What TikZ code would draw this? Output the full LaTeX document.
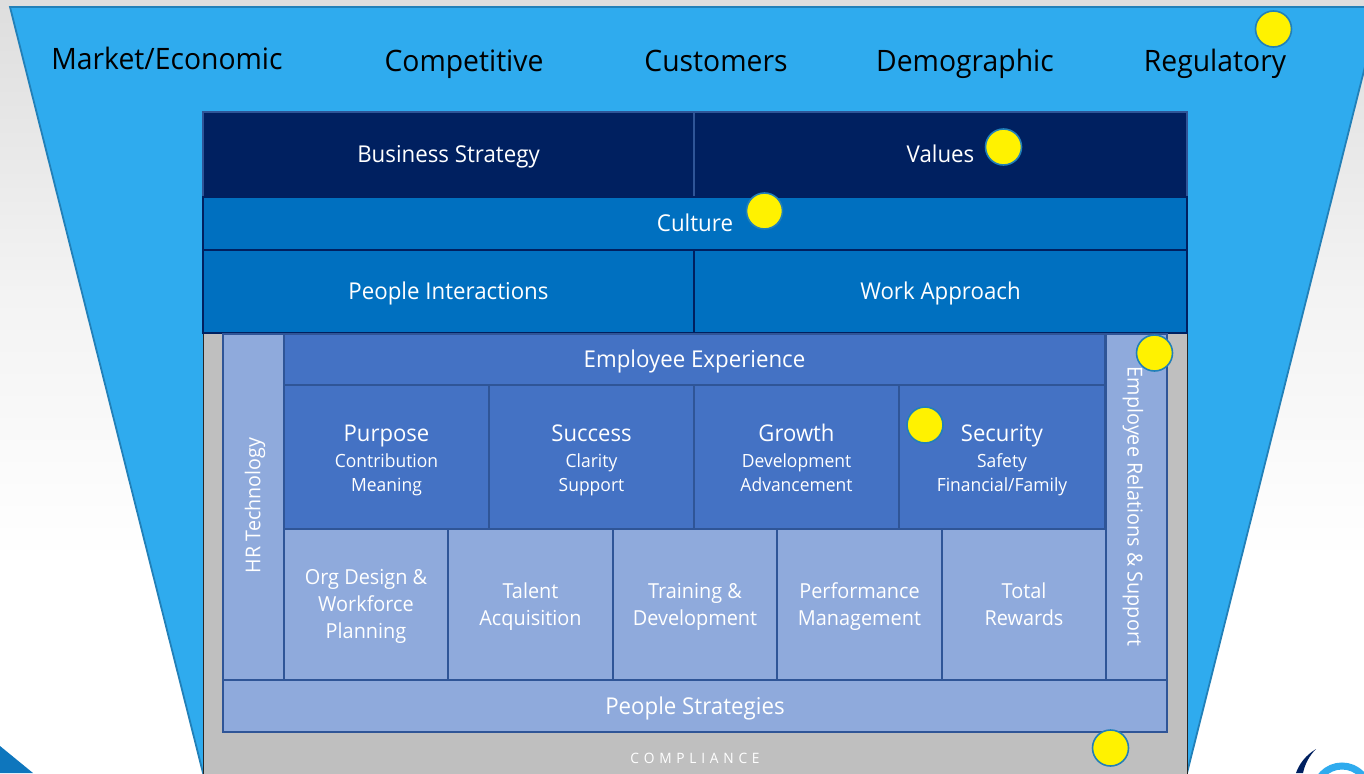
\documentclass[tikz,border=0pt]{standalone}
\usepackage{fontspec}
\setmainfont{Open Sans}[FakeStretch=0.96]
\newcommand{\fs}[1]{\fontsize{#1}{0}\selectfont}
\lineskiplimit=-100pt
\definecolor{sky}{HTML}{2FABEE}
\definecolor{skyedge}{HTML}{2280B8}
\definecolor{navy}{HTML}{002060}
\definecolor{midblue}{HTML}{0070C0}
\definecolor{royal}{HTML}{4472C4}
\definecolor{pale}{HTML}{8FAADC}
\definecolor{cellline}{HTML}{2F5597}
\definecolor{grayfill}{HTML}{BFBFBF}
\tikzset{
  x=1pt,y=-1pt,
  cell/.style={draw=cellline,line width=1.3pt,anchor=north west,inner sep=0pt,outer sep=0pt,text=white,align=center},
  navycell/.style={cell,fill=navy,draw=#1},
  bluecell/.style={cell,fill=midblue,draw=#1},
  royalcell/.style={cell,fill=royal},
  palecell/.style={cell,fill=pale},
  envtext/.style={text=black,font=\fs{29.5},anchor=base},
  dot/.style={circle,fill=yellow,draw=skyedge,line width=1.6pt,minimum size=36pt,inner sep=0pt},
  midl/.style={font=\fs{23.2},text height=19pt,text depth=3pt}
}
\newcommand{\biglab}[3]{\rule{0pt}{23pt}\fs{23}#1\\[14pt]\fs{18.2}#2\\[12pt]\fs{18.2}#3\rule[-5pt]{0pt}{5pt}}
\newcommand{\paleB}[2]{\rule{0pt}{20pt}#1\\[27pt]#2\rule[-5pt]{0pt}{5pt}}
\newcommand{\paleC}[3]{\rule{0pt}{18pt}#1\\[27pt]#2\\[27pt]#3\rule[-5pt]{0pt}{5pt}}
\begin{document}
\begin{tikzpicture}
\useasboundingbox (0,0) rectangle (1364,773);
\clip (0,0) rectangle (1364,773);
\shade[top color=black!13,bottom color=white,middle color=black!5] (0,0) rectangle (1364,560);
\fill[white] (0,559) rectangle (1364,773);
% corner decorations
\fill[skyedge!40!midblue] (0,746) -- (33,773) -- (0,773) -- cycle;
\fill[navy] (1316,749) .. controls (1306,755) and (1299,764) .. (1296,773) -- (1303,773) .. controls (1305,764) and (1309,756) .. (1316,749) -- cycle;
\draw[sky,line width=7pt] (1342,793) circle (27);
% funnel
\draw[fill=sky,draw=skyedge,line width=1.8pt] (10,7) -- (1380,7) -- (1187,773) -- (203,773) -- cycle;
% outer texts
\node[envtext] (env1) at (167,70) {Market/Economic};
\node[envtext] (env2) at (464,72) {Competitive};
\node[envtext] (env3) at (716,72) {Customers};
\node[envtext] (env4) at (965,72) {Demographic};
\node[envtext] (env5) at (1215,72) {Regulatory};
% compliance
\node[anchor=north west,fill=grayfill,draw=black!85,line width=1.2pt,inner sep=0pt,minimum width=984pt,minimum height=441pt] (comp) at (203,333) {};
\node[text=white,font=\fs{14.3}] (complabel) at (695,758) {C\,\,O\,\,M\,\,P\,\,L\,\,I\,\,A\,\,N\,\,C\,\,E};
% top strata
\node[navycell=cellline,minimum width=491pt,minimum height=85pt,midl] (bs) at (203,112) {Business Strategy};
\node[navycell=cellline,minimum width=493pt,minimum height=85pt,midl] (val) at (694,112) {Values};
\node[bluecell=navy,minimum width=984pt,minimum height=53pt,midl] (cul) at (203,197) {Culture};
\node[bluecell=navy,minimum width=491pt,minimum height=83pt,midl] (pi) at (203,250) {People Interactions};
\node[bluecell=navy,minimum width=493pt,minimum height=83pt,midl] (wa) at (694,250) {Work Approach};
% inner block
\node[royalcell,minimum width=821pt,minimum height=51pt,midl] (ee) at (284,334) {Employee Experience};
\node[royalcell,minimum width=205pt,minimum height=144pt] (pur) at (284,385) {\biglab{Purpose}{Contribution}{Meaning}};
\node[royalcell,minimum width=205pt,minimum height=144pt] (suc) at (489,385) {\biglab{Success}{Clarity}{Support}};
\node[royalcell,minimum width=205pt,minimum height=144pt] (gro) at (694,385) {\biglab{Growth}{Development}{Advancement}};
\node[royalcell,minimum width=206pt,minimum height=144pt] (sec) at (899,385) {\biglab{Security}{Safety}{Financial/Family}};
\tikzset{pl/.style={palecell,minimum height=151pt,font=\fs{20.7},align=center}}
\node[pl,minimum width=164pt] (org) at (284,529) {\paleC{Org Design \&}{Workforce}{Planning}};
\node[pl,minimum width=165pt] (tal) at (448,529) {\paleB{Talent}{Acquisition}};
\node[pl,minimum width=164pt] (tra) at (613,529) {\paleB{Training \&}{Development}};
\node[pl,minimum width=165pt] (per) at (777,529) {\paleB{Performance}{Management}};
\node[pl,minimum width=164pt] (tot) at (942,529) {\paleB{Total}{Rewards}};
\node[palecell,minimum width=61pt,minimum height=346pt] (hr) at (223,334) {};
\node[text=white,rotate=90,font=\fs{20.5}] (hrl) at (255,505.5) {HR Technology};
\node[palecell,minimum width=61pt,minimum height=346pt] (er) at (1106,334) {};
\node[text=white,rotate=-90,font=\fs{20.6}] (erl) at (1133,506.5) {Employee Relations \& Support};
\node[palecell,minimum width=944pt,minimum height=52pt,midl] (ps) at (223,680) {People Strategies};
% markers
\node[dot] (d1) at (1273.5,29) {};
\node[dot] (d2) at (1003.5,147) {};
\node[dot] (d3) at (764.5,211) {};
\node[dot] (d4) at (1154.5,353) {};
\node[dot] (d5) at (925,425) {};
\node[dot] (d6) at (1110.5,748) {};
\end{tikzpicture}
\end{document}
